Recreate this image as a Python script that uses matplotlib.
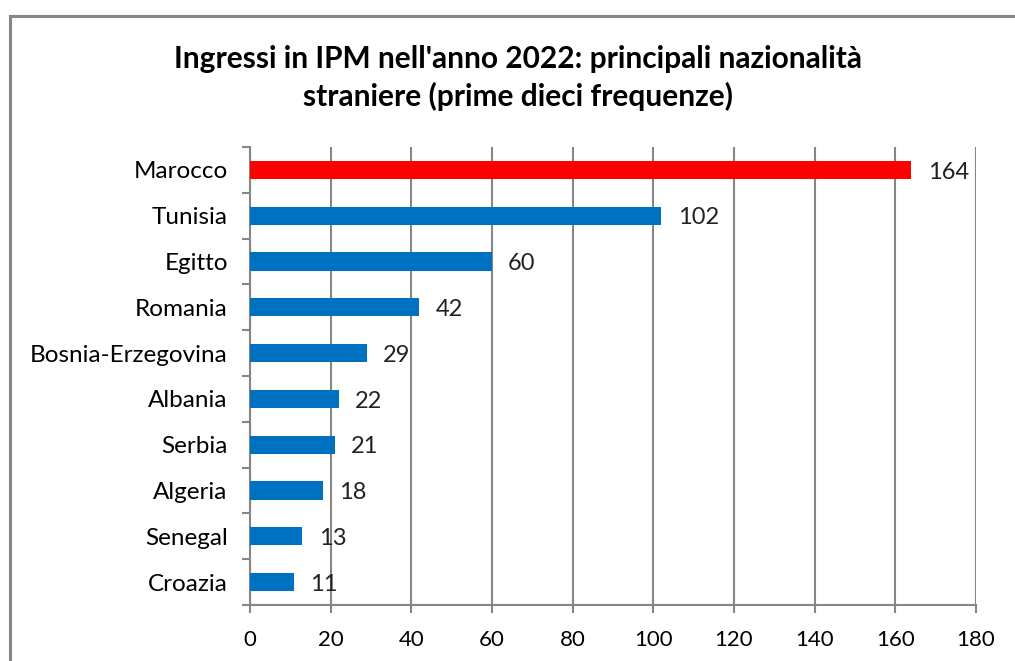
import matplotlib
matplotlib.use('Agg')
import matplotlib.pyplot as plt
from matplotlib.patches import Rectangle

countries = ['Marocco', 'Tunisia', 'Egitto', 'Romania', 'Bosnia-Erzegovina',
             'Albania', 'Serbia', 'Algeria', 'Senegal', 'Croazia']
counts = [164, 102, 60, 42, 29, 22, 21, 18, 13, 11]
xticks = [0, 20, 40, 60, 80, 100, 120, 140, 160, 180]

title = "Ingressi in IPM nell'anno 2022: principali nazionalità\nstraniere (prime dieci frequenze)"

blue = '#0070C0'
red = '#FF0000'
grey = '#868686'

fig = plt.figure(figsize=(10.15, 6.61), dpi=100)
ax = fig.add_axes([250 / 1015, 1 - 605 / 661, 726 / 1015, 458 / 661])

# frame around the chart (right/bottom edges cut off in the reference)
fig.patches.append(Rectangle((10 / 1015, -0.05), 1.1, 1 - 16 / 661 + 0.05,
                             transform=fig.transFigure, fill=False,
                             edgecolor=grey, linewidth=2.2, zorder=0))

pos = list(range(len(countries)))
colors = [red] + [blue] * (len(countries) - 1)
ax.barh(pos, counts, height=0.4, color=colors, zorder=3)

for p, v in zip(pos, counts):
    ax.text(v + 4, p + 0.05, str(v), va='center', ha='left', fontsize=17,
            family='Lato', color='#222222', zorder=4)

ax.set_ylim(len(countries) - 0.5, -0.5)
ax.set_xlim(0, 180)
ax.set_xticks(xticks)
ax.set_xticklabels([str(t) for t in xticks], fontsize=16, family='Lato')
ax.set_yticks(pos)
ax.set_yticklabels(countries, fontsize=17.5, family='Lato')
ax.set_yticks([i - 0.5 for i in range(len(countries) + 1)], minor=True)

ax.tick_params(axis='y', which='major', length=0, pad=16)
ax.tick_params(axis='y', which='minor', length=6, width=1.5, color=grey)
ax.tick_params(axis='x', length=6, width=1.5, color=grey, pad=12)

ax.grid(axis='x', color=grey, linewidth=1.5, zorder=0)
ax.set_axisbelow(True)
for s in ['top', 'right']:
    ax.spines[s].set_visible(False)
for s in ['left', 'bottom']:
    ax.spines[s].set_color(grey)
    ax.spines[s].set_linewidth(1.5)

fig.text(518 / 1015, 1 - 78 / 661, title, ha='center', va='center',
         fontsize=21.5, fontweight='bold', family='Lato',
         linespacing=1.35)

fig.savefig('out.png', dpi=100)
